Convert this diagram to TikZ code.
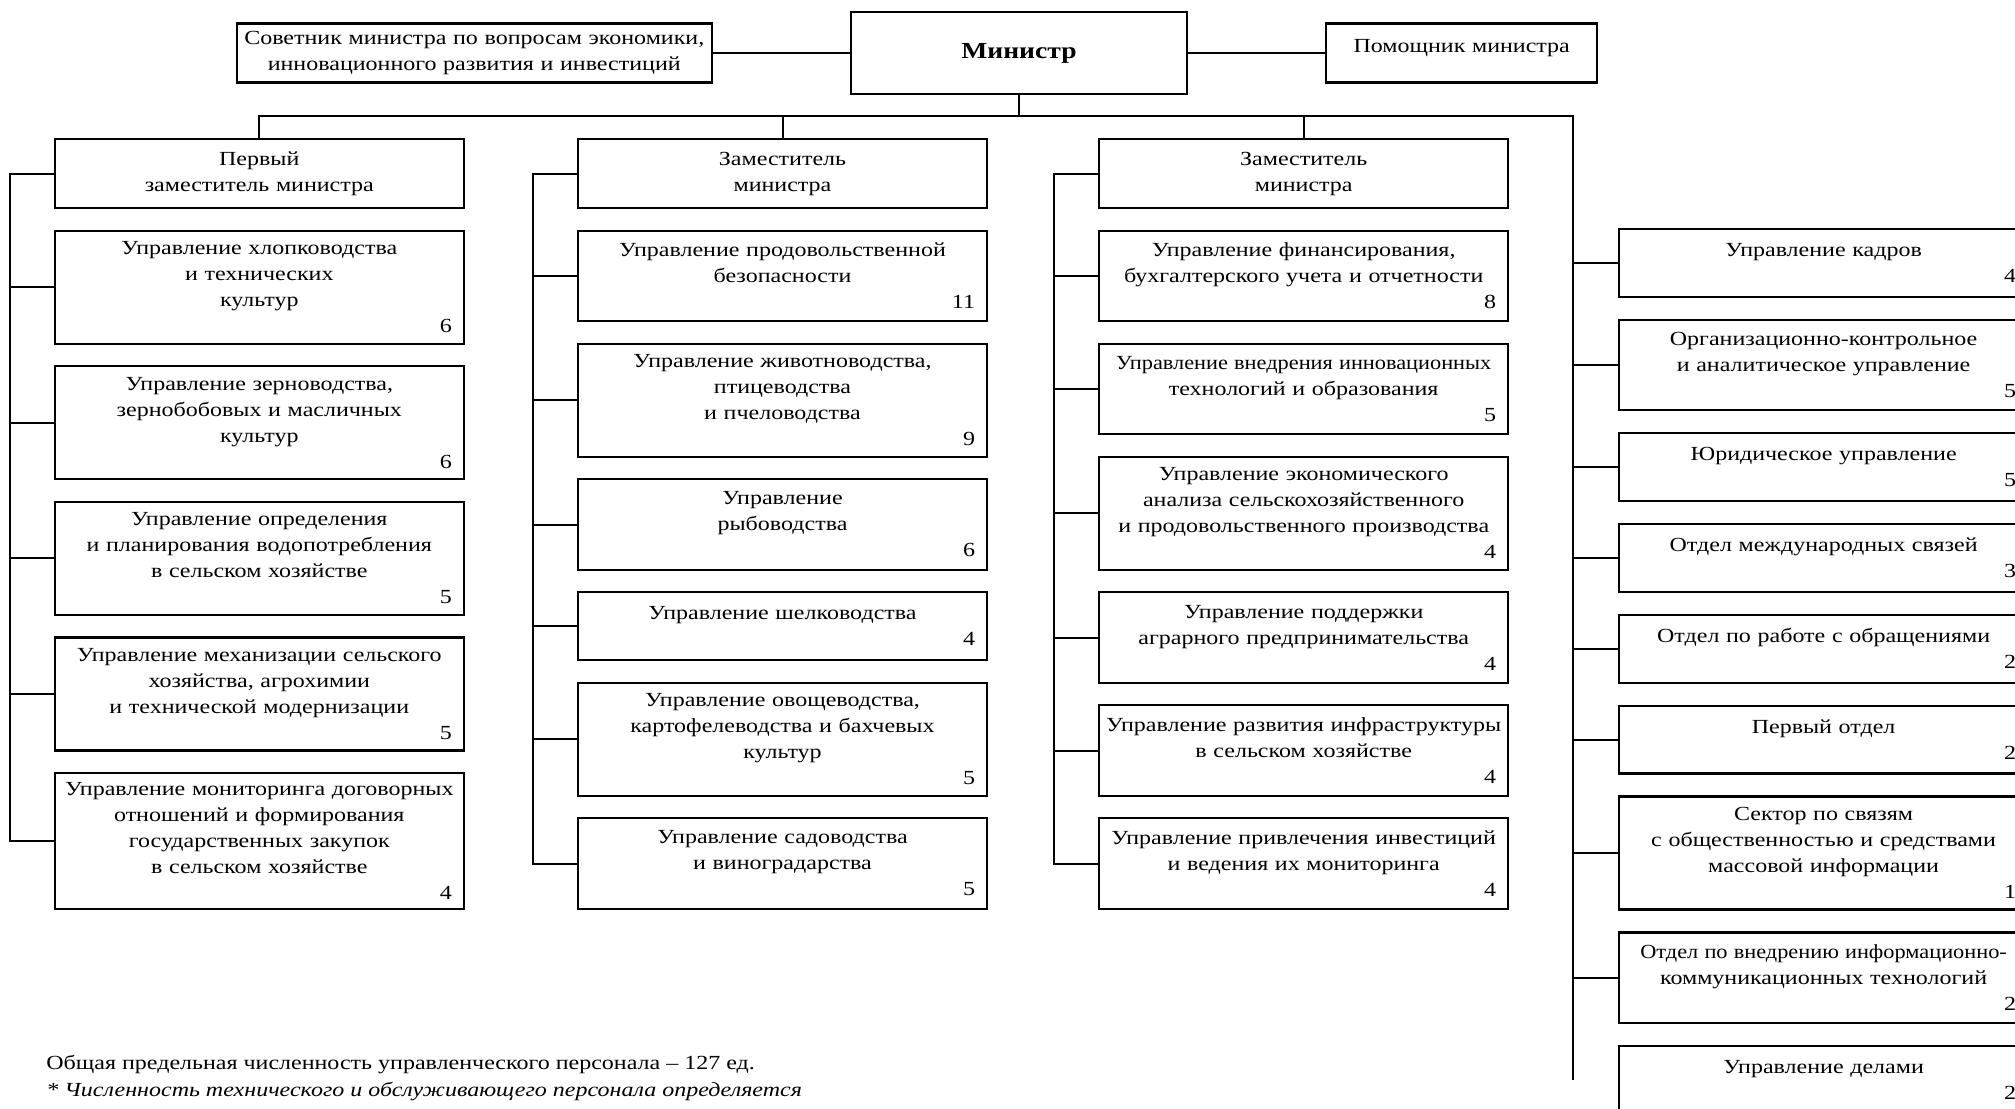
\documentclass[tikz,border=0pt]{standalone}
\usepackage{fontspec}
\usepackage{graphicx}
\setmainfont{Liberation Serif}[FakeStretch=1.2]
\usetikzlibrary{positioning,calc}
% staff number, set flush right on the last line of a box
\newcommand{\staff}[1]{\\\makebox[\linewidth][r]{#1\hspace{3pt}}}
% a line that is set a little narrower
\newcommand{\narrow}[1]{\scalebox{0.93}[1]{#1}}

\begin{document}
\begin{tikzpicture}[
    x=0.5pt, y=-0.5pt,
    node distance=10.2pt,
    box/.style={rectangle, draw, line width=1.1pt, align=center, inner xsep=3pt, inner ysep=2pt,
      text width=198.5pt, font=\fontsize{10}{13}\selectfont},
    upper/.style={box, text width=#1, minimum height=29.5pt},
    head/.style={box, minimum height=34.5pt},
    dept/.style={box, minimum height={11.3pt*(#1+1)}},
    link/.style={line width=1pt},
  ]
  \useasboundingbox (0,0) rectangle (2015,1109);

  % top row
  \node[box, text width=162pt, minimum height=41pt, font=\fontsize{11.5}{13}\selectfont\bfseries] (minister) at (1019,53) {Министр};
  \node[upper=231.5pt, left=68.5pt of minister] (advisor) {Советник министра по вопросам экономики,\\инновационного развития и инвестиций};
  \node[upper=129.5pt, text depth=7pt, right=68.5pt of minister] (assistant) {Помощник министра};

  % deputies
  \node[head, anchor=north] (depa) at (782.5,138) {Заместитель\\министра};
  \node[head, left=56pt of depa] (fdep) {Первый\\заместитель министра};
  \node[head, right=55pt of depa] (depb) {Заместитель\\министра};

  % first deputy
  \node[dept=4, below=of fdep] (fd1) {Управление хлопководства\\и технических\\культур\staff{6}};
  \node[dept=4, below=of fd1] (fd2) {Управление зерноводства,\\зернобобовых и масличных\\культур\staff{6}};
  \node[dept=4, below=of fd2] (fd3) {Управление определения\\и планирования водопотребления\\в сельском хозяйстве\staff{5}};
  \node[dept=4, below=of fd3] (fd4) {Управление механизации сельского\\хозяйства, агрохимии\\и технической модернизации\staff{5}};
  \node[dept=5, below=of fd4] (fd5) {Управление мониторинга договорных\\отношений и формирования\\государственных закупок\\в сельском хозяйстве\staff{4}};

  % deputy (middle)
  \node[dept=3, below=of depa] (da1) {Управление продовольственной\\безопасности\staff{11}};
  \node[dept=4, below=of da1] (da2) {Управление животноводства,\\птицеводства\\и пчеловодства\staff{9}};
  \node[dept=3, below=of da2] (da3) {Управление\\рыбоводства\staff{6}};
  \node[dept=2, below=of da3] (da4) {Управление шелководства\staff{4}};
  \node[dept=4, below=of da4] (da5) {Управление овощеводства,\\картофелеводства и бахчевых\\культур\staff{5}};
  \node[dept=3, below=of da5] (da6) {Управление садоводства\\и виноградарства\staff{5}};

  % deputy (right)
  \node[dept=3, below=of depb] (db1) {Управление финансирования,\\бухгалтерского учета и отчетности\staff{8}};
  \node[dept=3, below=of db1] (db2) {\narrow{Управление внедрения инновационных}\\технологий и образования\staff{5}};
  \node[dept=4, below=of db2] (db3) {Управление экономического\\анализа сельскохозяйственного\\и продовольственного производства\staff{4}};
  \node[dept=3, below=of db3] (db4) {Управление поддержки\\аграрного предпринимательства\staff{4}};
  \node[dept=3, below=of db4] (db5) {Управление развития инфраструктуры\\в сельском хозяйстве\staff{4}};
  \node[dept=3, below=of db5] (db6) {Управление привлечения инвестиций\\и ведения их мониторинга\staff{4}};

  % units under the minister
  \begin{scope}[node distance=10.4pt]
    \node[dept=2, anchor=north west] (ap1) at (1618,228) {Управление кадров\staff{4}};
    \node[dept=3, below=of ap1] (ap2) {Организационно-контрольное\\и аналитическое управление\staff{5}};
    \node[dept=2, below=of ap2] (ap3) {Юридическое управление\staff{5}};
    \node[dept=2, below=of ap3] (ap4) {Отдел международных связей\staff{3}};
    \node[dept=2, below=of ap4] (ap5) {Отдел по работе с обращениями\staff{2}};
    \node[dept=2, below=of ap5] (ap6) {Первый отдел\staff{2}};
    \node[dept=4, below=of ap6] (ap7) {Сектор по связям\\с общественностью и средствами\\массовой информации\staff{1}};
    \node[dept=3, below=of ap7] (ap8) {\narrow{Отдел по внедрению информационно-}\\коммуникационных технологий\staff{2}};
    \node[dept=2, below=of ap8] (ap9) {Управление делами\staff{2}};
  \end{scope}

  \node[anchor=base west, inner sep=0pt, font=\fontsize{10}{13}\selectfont] (total) at (46,1069) {Общая предельная численность управленческого персонала – 127 ед.};
  \node[anchor=base west, inner sep=0pt, font=\fontsize{10}{13}\selectfont\itshape] (note) at (46,1096) {* Численность технического и обслуживающего персонала определяется};

  % connectors
  \coordinate (bus) at ($(minister.south)+(0,-10.5pt)$);
  \draw[link] (advisor) -- (minister);
  \draw[link] (minister) -- (assistant);
  \draw[link] (minister) -- (bus);
  \draw[link] (fdep.north) |- (bus) -| ([xshift=-22.5pt]ap9.west);
  \draw[link] (depa.north) -- (depa.north |- bus);
  \draw[link] (depb.north) -- (depb.north |- bus);

  \draw[link] (fdep.west) -- ++(-22pt,0) |- (fd5.west);
  \foreach \n in {1,...,4} \draw[link] (fd\n.west) -- ++(-22pt,0);
  \draw[link] (depa.west) -- ++(-22pt,0) |- (da6.west);
  \foreach \n in {1,...,5} \draw[link] (da\n.west) -- ++(-22pt,0);
  \draw[link] (depb.west) -- ++(-22pt,0) |- (db6.west);
  \foreach \n in {1,...,5} \draw[link] (db\n.west) -- ++(-22pt,0);
  \foreach \n in {1,...,8} \draw[link] (ap\n.west) -- ++(-22.5pt,0);
\end{tikzpicture}
\end{document}
